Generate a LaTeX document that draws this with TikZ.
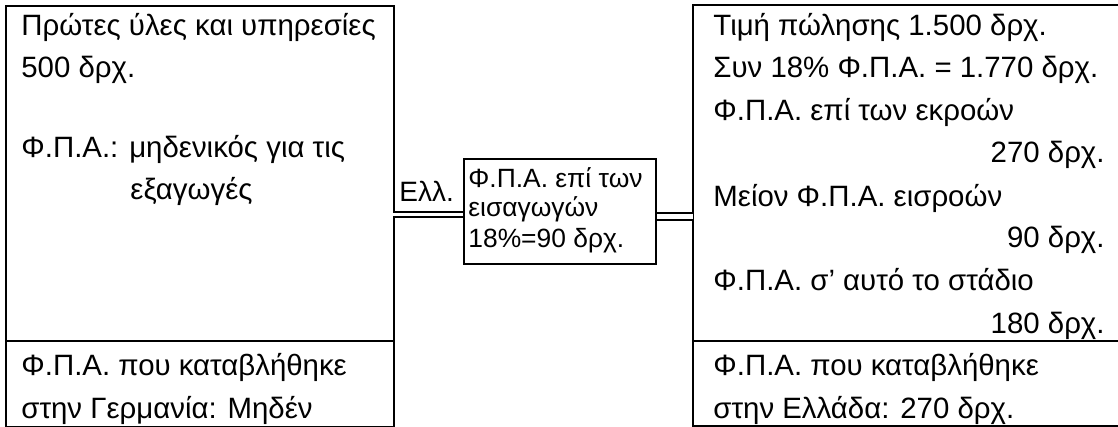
\documentclass[tikz,border=0pt]{standalone}
\usepackage{fontspec}
\setmainfont{Liberation Sans}
\begin{document}
\begin{tikzpicture}[x=0.5pt,y=-0.5pt,
  frame/.style={draw=black,line width=1pt},
  boxnode/.style={frame,inner sep=0pt,anchor=north west},
  txt/.style={anchor=base west,inner sep=0pt,font=\fontsize{14.7pt}{17pt}\selectfont},
  rtxt/.style={anchor=base east,inner sep=0pt,font=\fontsize{14.7pt}{17pt}\selectfont},
  stxt/.style={anchor=base west,inner sep=0pt,font=\fontsize{13.2pt}{15pt}\selectfont},
  dline/.style={draw=black,double=white,line width=1pt}]
\useasboundingbox (0,0) rectangle (1118,427);
% left box
\node[boxnode,minimum width=194pt,minimum height=210.5pt] (L) at (5,5) {};
\coordinate (Ldl) at (5,341);
\coordinate (Ldr) at (393,341);
\draw[frame] (Ldl) -- (Ldr);
% right box (open at the right)
\coordinate (Rt) at (1120,5);
\coordinate (Rtl) at (693,5);
\coordinate (Rbl) at (693,426);
\coordinate (Rb) at (1120,426);
\coordinate (Rdl) at (693,341);
\coordinate (Rdr) at (1120,341);
\draw[frame] (Rt) -- (Rtl) -- (Rbl) -- (Rb);
\draw[frame] (Rdl) -- (Rdr);
% middle box
\node[boxnode,minimum width=96pt,minimum height=52.5pt] (M) at (463,158) {};
% connectors
\coordinate (Lc) at (393,214.5);
\coordinate (Rc) at (693,216.5);
\draw[dline,double distance=1.5pt] (Lc) -- (M.west |- Lc);
\draw[dline,double distance=2.5pt] (M.east |- Rc) -- (Rc);
% left texts
\node[txt] (l1) at (21,36) {Πρώτες ύλες και υπηρεσίες};
\node[txt] (l2) at (21,78) {500 δρχ.};
\node[txt] (l3) at (21,158) {Φ.Π.Α.: μηδενικός για τις};
\node[txt] (l4) at (130,200) {εξαγωγές};
\node[txt] (l5) at (21,375) {Φ.Π.Α. που καταβλήθηκε};
\node[txt] (l6) at (21,418) {στην Γερμανία: Μηδέν};
% middle texts
\node[stxt,font=\fontsize{14pt}{16pt}\selectfont] (ell) at (399,202) {Ελλ.};
\node[stxt] (m1) at (468,188) {Φ.Π.Α. επί των};
\node[stxt] (m2) at (468,217) {εισαγωγών};
\node[stxt] (m3) at (468,248) {18\%=90 δρχ.};
% right texts
\node[txt] (r1) at (713,36) {Τιμή πώλησης 1.500 δρχ.};
\node[txt] (r2) at (713,78) {Συν 18\% Φ.Π.Α. = 1.770 δρχ.};
\node[txt] (r3) at (713,121) {Φ.Π.Α. επί των εκροών};
\node[rtxt] (r4) at (1105,163) {270 δρχ.};
\node[txt] (r5) at (713,206) {Μείον Φ.Π.Α. εισροών};
\node[rtxt] (r6) at (1105,248) {90 δρχ.};
\node[txt] (r7) at (713,291) {Φ.Π.Α. σ’ αυτό το στάδιο};
\node[rtxt] (r8) at (1105,333) {180 δρχ.};
\node[txt] (r9) at (713,375) {Φ.Π.Α. που καταβλήθηκε};
\node[txt] (r10) at (713,418) {στην Ελλάδα: 270 δρχ.};
\end{tikzpicture}
\end{document}
